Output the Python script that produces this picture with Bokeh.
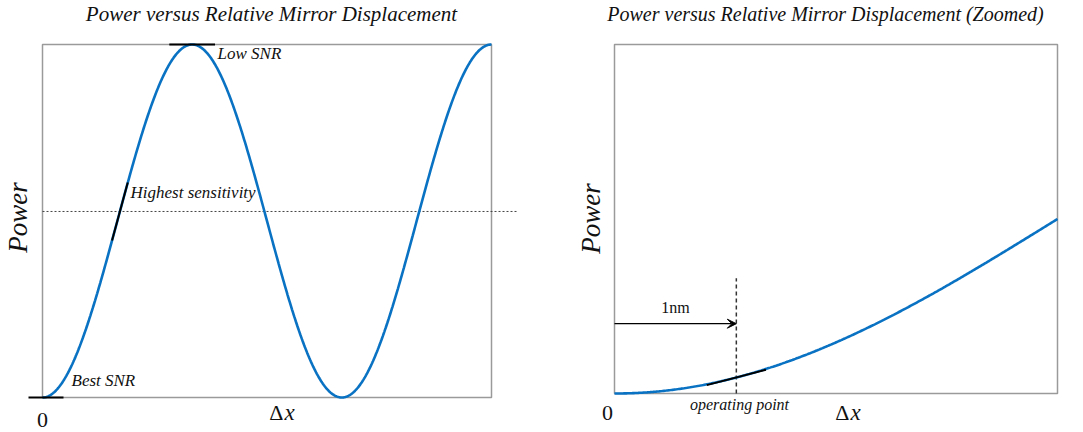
import numpy as np
from bokeh.plotting import figure
from bokeh.layouts import row
from bokeh.models import Range1d, Arrow, VeeHead
from bokeh.core.properties import value
from bokeh.embed import file_html
from bokeh.resources import INLINE

# ---- model: interferometer output power vs. relative mirror phase ----
full_phase_span = 3 * np.pi          # three half-fringes in the overview
zoom_phase_span = np.pi / 2          # first quarter fringe in the zoomed view
sensitivity_level = 0.527            # power level of the mid-fringe marker
operating_phase = 0.432              # operating point (1 nm offset)
arrow_level = 0.20                   # height of the "1nm" arrow
dashed_top = 0.33                    # top of the operating-point marker

phase_full = np.linspace(0, full_phase_span, 600)
power_full = np.sin(phase_full / 2) ** 2
phase_zoom = np.linspace(0, zoom_phase_span, 300)
power_zoom = np.sin(phase_zoom / 2) ** 2

BLUE = "#0a72c2"
FRAME = "#9a9a9a"
SERIF = value("Liberation Serif")


def power_at(phi):
    return np.sin(phi / 2) ** 2


def slope_at(phi):
    return np.sin(phi) / 2


def tangent(phi, half):
    xs = [phi - half, phi + half]
    ys = [power_at(phi) - slope_at(phi) * half, power_at(phi) + slope_at(phi) * half]
    return xs, ys


def base_fig(w, x0, x1, y0, y1):
    p = figure(width=w, height=432, output_backend="svg", toolbar_location=None,
               x_range=Range1d(x0, x1), y_range=Range1d(y0, y1),
               x_axis_location=None, y_axis_location=None, title=None,
               min_border=0, outline_line_color=None,
               background_fill_color="white", border_fill_color="white")
    p.xgrid.visible = False
    p.ygrid.visible = False
    return p


def txt(p, x, y, s, size, style="italic", align="left", angle=0.0):
    p.text(x=[x], y=[y], text=[s], text_font=SERIF, text_font_size=f"{size}px",
           text_font_style=style, text_align=align, text_baseline="middle",
           text_color="#111111", angle=angle)


def delta_x(p, cx, y, px_unit):
    # upright Delta followed by an italic x
    txt(p, cx + 1 / px_unit, y, "\u0394", 22, style="normal", align="right")
    txt(p, cx + 2 / px_unit, y, "x", 23, style="italic", align="left")


# ---------------- left panel ----------------
L_W = 541
l_left, l_right, l_top, l_bot = 42, 491, 44, 397
lppx = (l_right - l_left) / full_phase_span
lppy = (l_bot - l_top) / 1.0
pl = base_fig(L_W, -l_left / lppx, (L_W - l_left) / lppx,
              -(432 - l_bot) / lppy, 1 + l_top / lppy)


def lx(px):
    return (px - l_left) / lppx


def ly(py):
    return (l_bot - py) / lppy


pl.quad(left=0, right=full_phase_span, bottom=0, top=1, fill_color=None,
        line_color=FRAME, line_width=1.5)
pl.line([0, lx(516)], [sensitivity_level, sensitivity_level], line_color="#444444",
        line_width=1, line_dash="2 2")
pl.line(phase_full, power_full, line_color=BLUE, line_width=2.6)

# tangents: best SNR (trough), highest sensitivity (mid-fringe), low SNR (peak)
pl.line([lx(28), lx(63)], [0, 0], line_color="black", line_width=2)
phi_mid = np.arccos(1 - 2 * sensitivity_level)
xs, ys = tangent(phi_mid, 0.165)
pl.line(xs, ys, line_color="black", line_width=2)
pl.line([np.pi - 0.48, np.pi + 0.48], [1, 1], line_color="black", line_width=2)

txt(pl, lx(217), ly(53), "Low SNR", 17)
txt(pl, lx(130), ly(192), "Highest sensitivity", 17)
txt(pl, lx(71), ly(380), "Best SNR", 17)
txt(pl, 0.0, ly(419), "0", 22, style="normal", align="center")
delta_x(pl, lx(282), ly(412), lppx)
txt(pl, lx(17), ly(217), "Power", 27, align="center", angle=np.pi / 2)
txt(pl, lx(271), ly(13), "Power versus Relative Mirror Displacement", 21, align="center")

# ---------------- right panel ----------------
R_W = 1083 - L_W
off = L_W
r_left, r_right, r_top, r_bot = 614 - off, 1057 - off, 44, 393
rppx = (r_right - r_left) / zoom_phase_span
rppy = (r_bot - r_top) / 1.0
pr = base_fig(R_W, -r_left / rppx, (R_W - r_left) / rppx,
              -(432 - r_bot) / rppy, 1 + r_top / rppy)


def rx(px):
    return (px - off - r_left) / rppx


def ry(py):
    return (r_bot - py) / rppy


pr.quad(left=0, right=zoom_phase_span, bottom=0, top=1, fill_color=None,
        line_color=FRAME, line_width=1.5)
pr.line([operating_phase, operating_phase], [0, dashed_top], line_color="#333333",
        line_width=1.5, line_dash="4 3")
pr.line(phase_zoom, power_zoom, line_color=BLUE, line_width=2.6)
xs, ys = tangent(operating_phase, 0.105)
pr.line(xs, ys, line_color="black", line_width=2)
pr.add_layout(Arrow(end=VeeHead(size=9, line_color="black", fill_color="black", line_width=1),
                    x_start=0, y_start=arrow_level, x_end=operating_phase, y_end=arrow_level,
                    line_color="black", line_width=1.3))

txt(pr, operating_phase / 2, ry(307), "1nm", 16, style="normal", align="center")
txt(pr, rx(739), ry(404), "operating point", 16, align="center")
txt(pr, rx(607), ry(412), "0", 22, style="normal", align="center")
delta_x(pr, rx(848), ry(412), rppx)
txt(pr, rx(590), ry(218), "Power", 27, align="center", angle=np.pi / 2)
txt(pr, rx(825), ry(13), "Power versus Relative Mirror Displacement (Zoomed)", 20, align="center")

layout = row(pl, pr)
open("out.html", "w").write(file_html(layout, INLINE))
